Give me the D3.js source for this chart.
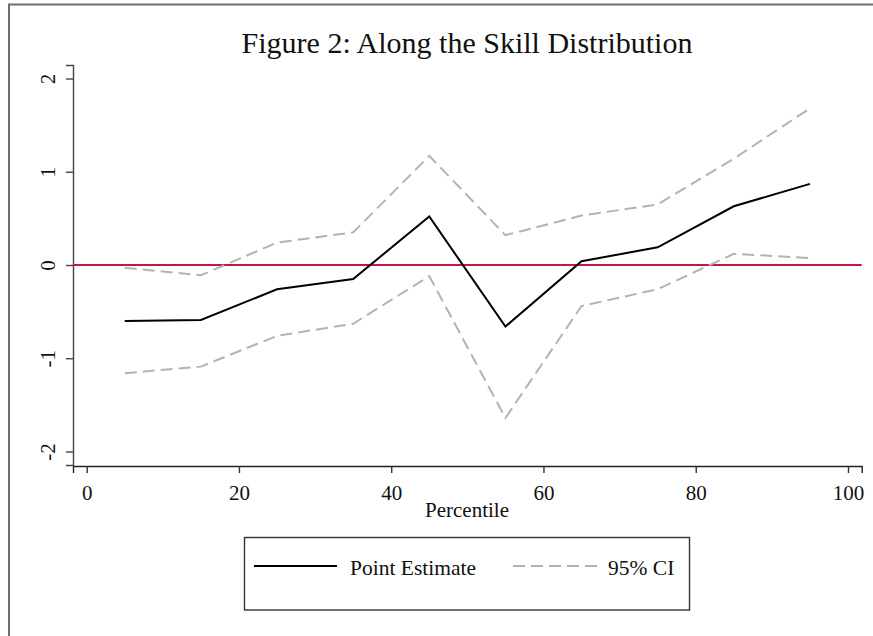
<!DOCTYPE html>
<html>
<head>
<meta charset="utf-8">
<script src="https://cdn.jsdelivr.net/npm/d3@7"></script>
<style>
  html, body { margin: 0; padding: 0; background: #fff; }
  svg { display: block; }
  text { font-family: "Liberation Serif", "Times New Roman", serif; fill: #111; }
</style>
</head>
<body>
<script>
// Percentile bins
const percentiles = [5, 15, 25, 35, 45, 55, 65, 75, 85, 95];
// Point estimates and 95% confidence bounds
const pointEstimate = [-0.60, -0.59, -0.26, -0.15, 0.52, -0.66, 0.04, 0.19, 0.63, 0.87];
const ciUpper = [-0.03, -0.11, 0.24, 0.35, 1.17, 0.32, 0.53, 0.65, 1.14, 1.68];
const ciLower = [-1.16, -1.09, -0.76, -0.63, -0.12, -1.64, -0.44, -0.26, 0.12, 0.075];
// Axis ticks
const xTicks = [0, 20, 40, 60, 80, 100];
const yTicks = [-2, -1, 0, 1, 2];
const legendItems = ["Point Estimate", "95% CI"];

const W = 873, H = 636;
const svg = d3.select("body").append("svg").attr("width", W).attr("height", H);

// Outer graph frame (right/bottom edges lie beyond the canvas)
svg.append("rect")
  .attr("x", 9).attr("y", 4.5)
  .attr("width", W + 20).attr("height", H + 20)
  .attr("fill", "#fff").attr("stroke", "#6e6e6e").attr("stroke-width", 2);

const x = d3.scaleLinear().domain([-1.8, 101.8]).range([73, 861.7]);
const y = d3.scaleLinear().domain([-2.145, 2.145]).range([465, 65]);

// Plain hyphen for negatives
const fmt = d => String(d);

// Title
svg.append("text")
  .attr("x", 467).attr("y", 53)
  .attr("text-anchor", "middle")
  .attr("font-size", 30)
  .text("Figure 2: Along the Skill Distribution");

// Y axis
const yAxis = d3.axisLeft(y).tickValues(yTicks).tickSize(7).tickFormat(fmt);
const gy = svg.append("g").attr("transform", `translate(${x.range()[0]},0)`).call(yAxis);
gy.select(".domain").attr("stroke", "#444").attr("stroke-width", 1.4);
gy.selectAll(".tick line").attr("stroke", "#444").attr("stroke-width", 1.4);
gy.selectAll(".tick text")
  .attr("x", null).attr("dy", null)
  .attr("transform", "translate(-18,0) rotate(-90)")
  .attr("text-anchor", "middle")
  .attr("font-size", 21)
  .attr("font-family", "Liberation Serif, Times New Roman, serif")
  .attr("fill", "#111");

// X axis
const xAxis = d3.axisBottom(x).tickValues(xTicks).tickSize(7).tickFormat(fmt);
const gx = svg.append("g").attr("transform", `translate(0,${y.range()[0] + 1})`).call(xAxis);
gx.select(".domain").attr("stroke", "#222").attr("stroke-width", 1.4);
gx.selectAll(".tick line").attr("stroke", "#333").attr("stroke-width", 1.4);
gx.selectAll(".tick text")
  .attr("y", 34).attr("dy", null)
  .attr("font-size", 21)
  .attr("font-family", "Liberation Serif, Times New Roman, serif")
  .attr("fill", "#111");

// X axis title
svg.append("text")
  .attr("x", 467).attr("y", 517)
  .attr("text-anchor", "middle")
  .attr("font-size", 21)
  .text("Percentile");

// Zero reference line
svg.append("line")
  .attr("x1", x.range()[0]).attr("x2", x.range()[1])
  .attr("y1", y(0)).attr("y2", y(0))
  .attr("stroke", "#c8173f").attr("stroke-width", 2.2);

const line = d3.line().x(d => x(d[0])).y(d => y(d[1]));
const zip = vals => percentiles.map((p, i) => [p, vals[i]]);

// Confidence bounds
[ciUpper, ciLower].forEach(vals => {
  svg.append("path")
    .datum(zip(vals))
    .attr("d", line)
    .attr("fill", "none")
    .attr("stroke", "#b3b3b3")
    .attr("stroke-width", 2)
    .attr("stroke-dasharray", "12,6");
});

// Point estimate
svg.append("path")
  .datum(zip(pointEstimate))
  .attr("d", line)
  .attr("fill", "none")
  .attr("stroke", "#000")
  .attr("stroke-width", 2)
  .attr("stroke-linejoin", "miter");

// Legend
const lg = svg.append("g");
lg.append("rect")
  .attr("x", 244.5).attr("y", 537.5)
  .attr("width", 445).attr("height", 72.5)
  .attr("fill", "#fff").attr("stroke", "#333").attr("stroke-width", 1.4);

lg.append("line")
  .attr("x1", 254).attr("x2", 337).attr("y1", 566).attr("y2", 566)
  .attr("stroke", "#000").attr("stroke-width", 2);
lg.append("text")
  .attr("x", 350).attr("y", 575)
  .attr("font-size", 21.5)
  .text(legendItems[0]);

lg.append("line")
  .attr("x1", 513).attr("x2", 597).attr("y1", 566).attr("y2", 566)
  .attr("stroke", "#b3b3b3").attr("stroke-width", 2)
  .attr("stroke-dasharray", "12,6");
lg.append("text")
  .attr("x", 608).attr("y", 575)
  .attr("font-size", 21.5)
  .text(legendItems[1]);
</script>
</body>
</html>
